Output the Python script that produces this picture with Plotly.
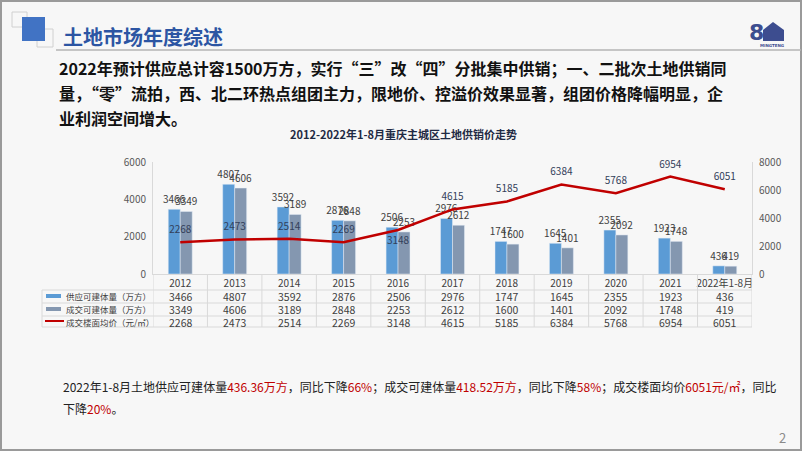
import plotly.graph_objects as go

categories = ["2012", "2013", "2014", "2015", "2016", "2017", "2018", "2019", "2020", "2021", "2022年1-8月"]
supply = [3466, 4807, 3592, 2876, 2506, 2976, 1747, 1645, 2355, 1923, 436]
deal = [3349, 4606, 3189, 2848, 2253, 2612, 1600, 1401, 2092, 1748, 419]
price = [2268, 2473, 2514, 2269, 3148, 4615, 5185, 6384, 5768, 6954, 6051]
series_names = ["供应可建体量（万方）", "成交可建体量（万方）", "成交楼面均价（元/㎡）"]
left_ticks = [0, 2000, 4000, 6000]
right_ticks = [0, 2000, 4000, 6000, 8000]

W, H = 802, 451
L, R, T, B = 153, 50, 162, 177
PW, PH = W - L - R, H - T - B


def px(x):
    return (x - L) / PW


def py(y):
    return (H - B - y) / PH


FONT = "Noto Sans CJK SC"
BLUE = "#5b9bd5"
GREY = "#8497b0"
RED = "#c00000"
TXT = "#404040"
GRID = "#d9d9d9"

fig = go.Figure()
fig.add_trace(go.Bar(x=categories, y=supply, name=series_names[0], marker_color=BLUE,
                     text=supply, textposition="outside", cliponaxis=False, constraintext="none",
                     textfont=dict(size=10, color=TXT, family=FONT)))
fig.add_trace(go.Bar(x=categories, y=deal, name=series_names[1], marker_color=GREY,
                     text=deal, textposition="outside", cliponaxis=False, constraintext="none",
                     textfont=dict(size=10, color=TXT, family=FONT)))
pos = ["top center"] * len(price)
pos[4] = "bottom center"
fig.add_trace(go.Scatter(x=categories, y=price, name=series_names[2], yaxis="y2",
                         mode="lines+markers+text", line=dict(color=RED, width=2.5),
                         marker=dict(size=9, color="rgba(0,0,0,0)"),
                         text=price, textposition=pos, cliponaxis=False,
                         textfont=dict(size=10, color="#33405a", family=FONT)))

shapes = []
annotations = []

# slide border
shapes.append(dict(type="rect", xref="paper", yref="paper", x0=px(1), x1=px(801), y0=py(1), y1=py(450),
                   line=dict(color="#9a9a9a", width=2), layer="below"))
# header underline
shapes.append(dict(type="line", xref="paper", yref="paper", x0=px(56), x1=px(801), y0=py(50), y1=py(50),
                   line=dict(color="#b5b5b5", width=1.5)))
# header icon
shapes.append(dict(type="rect", xref="paper", yref="paper", x0=px(12), x1=px(27), y0=py(12), y1=py(27),
                   line=dict(color="#d0d0d0", width=1)))
shapes.append(dict(type="rect", xref="paper", yref="paper", x0=px(37), x1=px(53), y0=py(29), y1=py(47),
                   line=dict(color="#d0d0d0", width=1)))
shapes.append(dict(type="rect", xref="paper", yref="paper", x0=px(22), x1=px(45), y0=py(17), y1=py(41),
                   line=dict(width=0), fillcolor="#4173c4"))
annotations.append(dict(text="<b>土地市场年度综述</b>", xref="paper", yref="paper", x=px(61), y=py(36),
                        xanchor="left", yanchor="middle", showarrow=False,
                        font=dict(size=20, color="#2c55a3", family=FONT)))
# logo
LOGO = "#3d4d8f"
annotations.append(dict(text="<b>8</b>", xref="paper", yref="paper", x=px(756), y=py(32),
                        xanchor="center", yanchor="middle", showarrow=False,
                        font=dict(size=22, color=LOGO, family="DejaVu Sans")))
house = (f"M {px(763)} {py(41)} L {px(763)} {py(30)} L {px(773)} {py(22)} L {px(784)} {py(30)} "
         f"L {px(784)} {py(41)} Z")
shapes.append(dict(type="path", xref="paper", yref="paper", path=house, fillcolor=LOGO, line=dict(width=0)))
annotations.append(dict(text="<b>MINGTENG</b>", xref="paper", yref="paper", x=px(772), y=py(45),
                        xanchor="center", yanchor="middle", showarrow=False,
                        font=dict(size=4, color=LOGO, family="DejaVu Sans")))

# headline
head_lines = [
    "2022年预计供应总计容1500万方，实行“三”改“四”分批集中供销；一、二批次土地供销同",
    "量，“零”流拍，西、北二环热点组团主力，限地价、控溢价效果显著，组团价格降幅明显，企",
    "业利润空间增大。",
]
for i, t in enumerate(head_lines):
    annotations.append(dict(text=f"<b>{t}</b>", xref="paper", yref="paper", x=px(57), y=py(68 + 25 * i),
                            xanchor="left", yanchor="middle", showarrow=False,
                            font=dict(size=16, color="#111111", family=FONT)))

# chart title
annotations.append(dict(text="<b>2012-2022年1-8月重庆主城区土地供销价走势</b>", xref="paper", yref="paper",
                        x=px(403), y=py(134), xanchor="center", yanchor="middle", showarrow=False,
                        font=dict(size=11, color="#1f2a44", family=FONT)))

# data table
row_y = [296, 309, 322]
for h in [290, 303, 316, 327]:
    shapes.append(dict(type="line", xref="paper", yref="paper", x0=px(42), x1=px(752), y0=py(h), y1=py(h),
                       line=dict(color=GRID, width=1)))
shapes.append(dict(type="line", xref="paper", yref="paper", x0=px(42), x1=px(42), y0=py(290), y1=py(327),
                   line=dict(color=GRID, width=1)))
for k in range(len(categories) + 1):
    shapes.append(dict(type="line", xref="x", yref="paper", x0=k - 0.5, x1=k - 0.5, y0=py(274), y1=py(327),
                       line=dict(color=GRID, width=1)))
for r, vals in enumerate([supply, deal, price]):
    for k, v in enumerate(vals):
        annotations.append(dict(text=str(v), xref="x", yref="paper", x=k, y=py(row_y[r]),
                                xanchor="center", yanchor="middle", showarrow=False,
                                font=dict(size=10.5, color=TXT, family=FONT)))
# legend keys
shapes.append(dict(type="rect", xref="paper", yref="paper", x0=px(46), x1=px(61), y0=py(294), y1=py(298),
                   fillcolor=BLUE, line=dict(width=0)))
shapes.append(dict(type="rect", xref="paper", yref="paper", x0=px(46), x1=px(61), y0=py(307), y1=py(311),
                   fillcolor=GREY, line=dict(width=0)))
shapes.append(dict(type="line", xref="paper", yref="paper", x0=px(45), x1=px(64), y0=py(321), y1=py(321),
                   line=dict(color=RED, width=2)))
for r, name in enumerate(series_names):
    annotations.append(dict(text=name, xref="paper", yref="paper", x=px(64), y=py(row_y[r]),
                            xanchor="left", yanchor="middle", showarrow=False,
                            font=dict(size=8.5, color=TXT, family=FONT)))

# bottom text
red = lambda s: f"<span style='color:#c00000'>{s}</span>"
bottom1 = ("2022年1-8月土地供应可建体量" + red("436.36万方") + "，同比下降" + red("66%") + "；成交可建体量"
           + red("418.52万方") + "，同比下降" + red("58%") + "；成交楼面均价" + red("6051元/㎡") + "，同比")
bottom2 = "下降" + red("20%") + "。"
for i, t in enumerate([bottom1, bottom2]):
    annotations.append(dict(text=t, xref="paper", yref="paper", x=px(61), y=py(386 + 22 * i),
                            xanchor="left", yanchor="middle", showarrow=False,
                            font=dict(size=12, color="#222222", family=FONT)))
annotations.append(dict(text="2", xref="paper", yref="paper", x=px(782), y=py(437),
                        xanchor="center", yanchor="middle", showarrow=False,
                        font=dict(size=13, color="#8a8a8a", family=FONT)))

fig.update_layout(
    width=W, height=H,
    margin=dict(l=L, r=R, t=T, b=B, pad=0),
    paper_bgcolor="#f7f7f7", plot_bgcolor="#f7f7f7",
    showlegend=False,
    barmode="group", bargap=0.56, bargroupgap=0,
    font=dict(family=FONT, size=10, color=TXT),
    xaxis=dict(type="category", range=[-0.5, len(categories) - 0.5], showgrid=False,
               showline=True, linecolor=GRID, linewidth=1, ticks="",
               tickfont=dict(size=10, color=TXT, family=FONT), zeroline=False),
    yaxis=dict(range=[0, 6000], tickvals=left_ticks, showgrid=False, zeroline=False,
               showline=True, linecolor=GRID, linewidth=1, ticks="", ticklabelstandoff=4,
               tickfont=dict(size=10, color="#595959", family=FONT)),
    yaxis2=dict(range=[0, 8000], tickvals=right_ticks, overlaying="y", side="right", showgrid=False,
                zeroline=False, showline=True, linecolor=GRID, linewidth=1, ticks="", ticklabelstandoff=4,
                tickfont=dict(size=10, color="#595959", family=FONT)),
    shapes=shapes,
    annotations=annotations,
)

fig.write_html("out.html", config={"displayModeBar": False},
               post_script="document.body.style.margin='0';document.body.style.overflow='hidden';")
